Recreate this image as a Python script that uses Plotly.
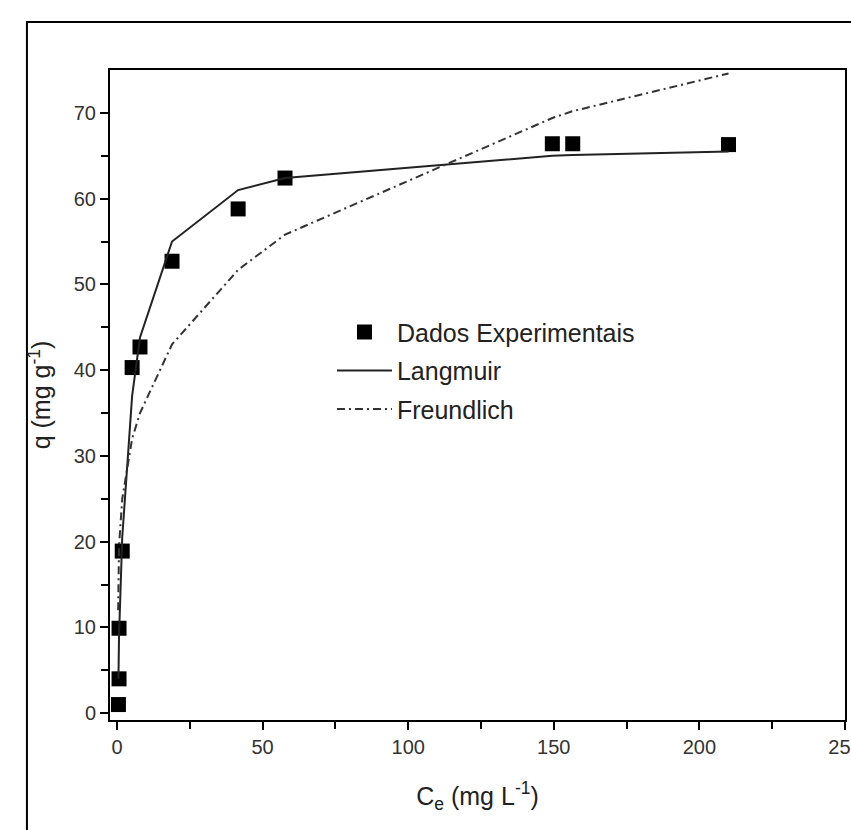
import plotly.graph_objects as go

exp_x = [0.5, 0.7, 0.7, 1.8, 5.2, 7.9, 18.9, 41.6, 57.7, 149.5, 156.5, 210.0]
exp_y = [1.0, 4.0, 9.9, 18.9, 40.3, 42.7, 52.7, 58.8, 62.4, 66.4, 66.4, 66.3]

lang_x = [0.5, 0.7, 1.8, 5.2, 7.9, 18.9, 41.6, 57.7, 149.5, 156.5, 210.0]
lang_y = [4.0, 9.0, 20.5, 37.0, 43.8, 55.0, 61.0, 62.4, 65.0, 65.1, 65.5]

freu_x = [0.4, 0.7, 1.8, 5.2, 7.9, 18.9, 41.6, 57.7, 149.5, 156.5, 210.0]
freu_y = [12.0, 19.5, 25.0, 32.0, 35.0, 43.0, 51.7, 55.8, 69.4, 70.2, 74.6]

x_ticks = [0, 50, 100, 150, 200, 250]
y_ticks = [0, 10, 20, 30, 40, 50, 60, 70]

font_fam = "Liberation Sans, Arial, sans-serif"

fig = go.Figure()
fig.add_trace(go.Scatter(x=exp_x, y=exp_y, mode="markers", name="Dados Experimentais",
                         legendgroup="a",
                         marker=dict(symbol="square", size=15, color="black")))
fig.add_trace(go.Scatter(x=lang_x, y=lang_y, mode="lines", name="Langmuir",
                         legendgroup="b",
                         line=dict(color="#222222", width=2)))
fig.add_trace(go.Scatter(x=freu_x, y=freu_y, mode="lines", name="Freundlich",
                         legendgroup="c",
                         line=dict(color="#333333", width=2, dash="8px,4px,2px,4px")))

fig.update_layout(
    width=851, height=830,
    margin=dict(l=110, r=6, t=70, b=110),
    paper_bgcolor="white", plot_bgcolor="white",
    font=dict(family=font_fam, color="#333333", size=20),
    showlegend=True,
    legend=dict(x=0.302, y=0.632, xanchor="left", yanchor="top",
                bgcolor="rgba(0,0,0,0)", font=dict(size=25, family=font_fam, color="#222222"),
                itemwidth=55, tracegroupgap=3),
    shapes=[dict(type="rect", xref="paper", yref="paper",
                 x0=-0.113, x1=1.1, y0=-0.3, y1=1.074,
                 line=dict(color="black", width=2), fillcolor="rgba(0,0,0,0)",
                 layer="below")],
)
fig.update_xaxes(
    range=[-2.4, 250], tickvals=x_ticks,
    automargin=False, ticklabeloverflow="allow",
    showgrid=False, zeroline=False,
    showline=True, linecolor="black", linewidth=2, mirror=True,
    ticks="outside", ticklen=8, tickwidth=2, tickcolor="black",
    minor=dict(tickvals=[25, 75, 125, 175, 225], ticks="outside", ticklen=7, tickwidth=2, tickcolor="black"),
    title=dict(text="C<sub>e</sub> (mg L<sup>-1</sup>)", font=dict(size=25, color="#222222"), standoff=30),
)
fig.update_yaxes(
    range=[-0.8, 75], tickvals=y_ticks,
    automargin=False, ticklabeloverflow="allow",
    showgrid=False, zeroline=False,
    showline=True, linecolor="black", linewidth=2, mirror=True,
    ticks="outside", ticklen=8, tickwidth=2, tickcolor="black",
    minor=dict(tickvals=[5, 15, 25, 35, 45, 55, 65], ticks="outside", ticklen=7, tickwidth=2, tickcolor="black"),
    title=dict(text="q (mg g<sup>-1</sup>)", font=dict(size=25, color="#222222"), standoff=16),
)

fig.write_html("out.html", config={"displayModeBar": False},
               post_script="document.body.style.margin='0';document.body.style.overflow='hidden';")
